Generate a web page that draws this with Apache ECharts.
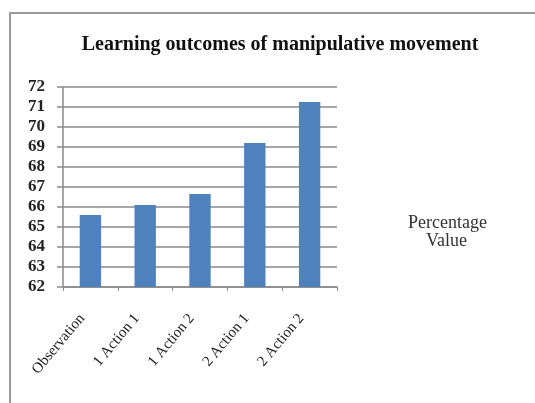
<!DOCTYPE html>
<html>
<head>
<meta charset="utf-8">
<script src="https://cdn.jsdelivr.net/npm/echarts@6/dist/echarts.min.js"></script>
<style>
  html, body { margin: 0; padding: 0; background: #fff; }
  #main { width: 535px; height: 403px; }
</style>
</head>
<body>
<div id="main"></div>
<script>
var categories = ['Observation', '1 Action 1', '1 Action 2', '2 Action 1', '2 Action 2'];
var values = [65.6, 66.1, 66.65, 69.2, 71.25];
var yTicks = [62, 63, 64, 65, 66, 67, 68, 69, 70, 71, 72];
var seriesName = 'Percentage Value';

var myChart = echarts.init(document.getElementById('main'));
var option = {
    backgroundColor: '#fff',
    animation: false,
    title: {
        text: 'Learning outcomes of manipulative movement',
        left: 275,
        top: 30,
        textAlign: 'center',
        textStyle: {
            fontFamily: 'Liberation Serif',
            fontWeight: 'bold',
            fontSize: 20,
            color: '#111'
        }
    },
    // outer chart border (runs off the right and bottom like the source)
    graphic: [{
        type: 'rect',
        shape: { x: 10, y: 13, width: 600, height: 500 },
        style: { fill: 'none', stroke: '#9a9a9a', lineWidth: 2 }
    }],
    legend: {
        data: [seriesName],
        left: 398,
        top: 209,
        icon: 'none',
        itemWidth: 0,
        itemGap: 0,
        formatter: function() { return 'Percentage\n    Value'; },
        textStyle: {
            fontFamily: 'Liberation Serif',
            fontSize: 18,
            color: '#333',
            lineHeight: 18
        }
    },
    grid: { left: 63, right: 198, top: 87, bottom: 116 },
    xAxis: {
        type: 'category',
        data: categories,
        axisLine: { lineStyle: { color: '#8a8a8a', width: 1.5 } },
        axisTick: { show: true, length: 4, lineStyle: { color: '#8a8a8a' } },
        axisLabel: {
            rotate: 50,
            margin: 19,
            padding: [0, 13, 0, 0],
            interval: 0,
            fontFamily: 'Liberation Serif',
            fontSize: 15,
            color: '#222'
        }
    },
    yAxis: {
        type: 'value',
        min: yTicks[0],
        max: yTicks[yTicks.length - 1],
        interval: 1,
        axisLine: { show: true, lineStyle: { color: '#8a8a8a', width: 1.5 } },
        axisTick: { show: true, length: 6, lineStyle: { color: '#8a8a8a', width: 1.5 } },
        splitLine: { lineStyle: { color: '#8a8a8a', width: 1.5 } },
        axisLabel: {
            margin: 18,
            fontFamily: 'Liberation Serif',
            fontWeight: 'bold',
            fontSize: 17,
            color: '#222'
        }
    },
    series: [{
        name: seriesName,
        type: 'bar',
        data: values,
        barWidth: '39%',
        itemStyle: { color: '#4f81bd' }
    }]
};
myChart.setOption(option);
</script>
</body>
</html>
